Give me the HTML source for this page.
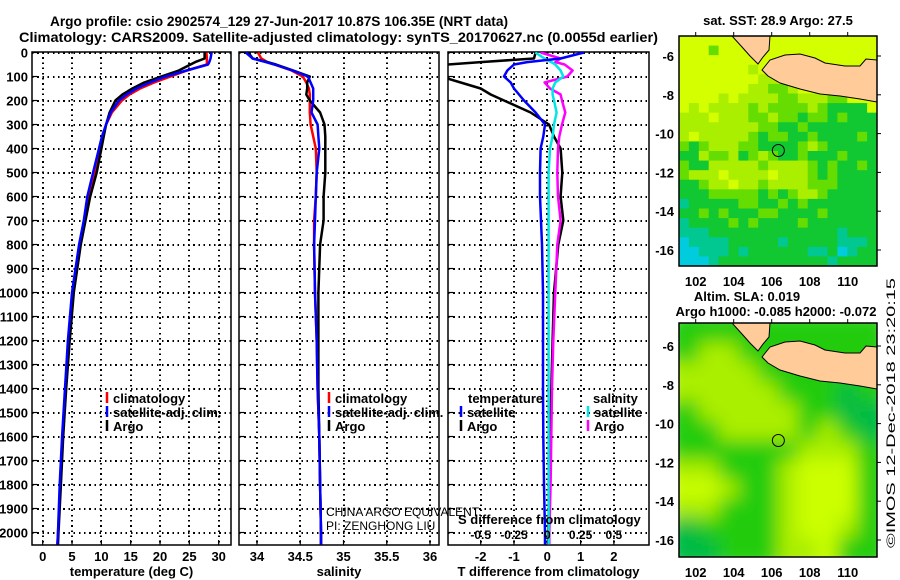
<!DOCTYPE html>
<html><head><meta charset="utf-8">
<style>
html,body{margin:0;padding:0;background:#fff;}
svg{display:block;font-family:"Liberation Sans",Arial,sans-serif;font-weight:bold;}
</style></head>
<body>
<svg id="chart" width="900" height="580" viewBox="0 0 900 580" xmlns="http://www.w3.org/2000/svg">
<defs>
<clipPath id="c1"><rect x="32" y="52" width="199" height="493"/></clipPath>
<clipPath id="c2"><rect x="239" y="52" width="200" height="493"/></clipPath>
<clipPath id="c3"><rect x="448" y="52" width="201" height="493"/></clipPath>
<clipPath id="m1c"><rect x="679" y="36" width="198" height="230"/></clipPath>
<clipPath id="m2c"><rect x="679" y="323" width="198" height="234"/></clipPath>
<filter id="blur" x="-10%" y="-10%" width="120%" height="120%"><feGaussianBlur stdDeviation="9"/></filter>
</defs>
<text x="50" y="26" font-size="14" textLength="458" lengthAdjust="spacingAndGlyphs">Argo profile: csio 2902574_129 27-Jun-2017 10.87S 106.35E (NRT data)</text>
<text x="19" y="42" font-size="14" textLength="639" lengthAdjust="spacingAndGlyphs">Climatology: CARS2009. Satellite-adjusted climatology: synTS_20170627.nc (0.0055d earlier)</text>
<g id="g1"></g>
<g id="g2"></g>
<g id="g3"></g>
<g id="m1"></g>
<g id="m2"></g>
<text transform="translate(895,548) rotate(-90)" font-size="12" font-weight="normal" textLength="270" lengthAdjust="spacingAndGlyphs">©IMOS 12-Dec-2018 23:20:15</text>
</svg>
<script>
// ---- data ----
const depths = [0,25,40,50,75,100,125,150,175,200,250,300,350,400,500,600,700,800,1000,1200,1400,1600,1800,2000,2050];
const tempClim = [27.9,28.0,28.0,28.0,24.6,21.8,19.0,16.6,14.8,13.5,11.8,10.8,10.2,9.8,8.9,7.9,7.2,6.4,5.2,4.5,3.9,3.4,3.0,2.6,2.5];
const tempSat  = [28.8,28.6,28.4,28.2,24.5,21.0,18.3,16.0,14.3,13.0,11.6,10.8,10.1,9.6,8.6,7.6,7.0,6.2,5.0,4.3,3.8,3.3,2.9,2.6,2.5];
const tempArgo = [27.6,27.6,26.0,25.2,23.2,20.2,17.3,15.3,13.6,12.4,11.4,10.8,10.4,10.0,9.2,8.1,7.3,6.5,5.3,4.6,4.0,3.5,3.1,2.7,2.6];
const salClim = [34.01,34.05,34.12,34.20,34.40,34.53,34.57,34.60,34.61,34.61,34.61,34.62,34.65,34.68,34.69,34.68,34.66,34.66,34.67,34.69,34.70,34.72,34.73,34.74,34.74];
const salSat  = [33.87,33.95,34.10,34.20,34.41,34.59,34.62,34.65,34.65,34.65,34.63,34.70,34.71,34.72,34.69,34.68,34.67,34.66,34.67,34.69,34.70,34.72,34.73,34.74,34.74];
const salArgo = [33.90,33.95,34.12,34.22,34.42,34.61,34.58,34.58,34.57,34.61,34.73,34.78,34.79,34.79,34.79,34.77,34.77,34.73,34.71,34.71,34.71,34.72,34.73,34.74,34.74];
const tdiffSat  = [1.1,0.4,-0.6,-1.0,-1.2,-1.3,-1.1,-1.0,-0.85,-0.7,-0.35,-0.07,-0.12,-0.2,-0.22,-0.22,-0.19,-0.16,-0.13,-0.13,-0.13,-0.12,-0.1,-0.07,-0.07];
const tdiffArgo = [-0.35,-0.4,-2.0,-3.0,-3.5,-3.2,-2.6,-2.0,-1.7,-1.3,-0.5,0.05,0.2,0.4,0.45,0.4,0.48,0.33,0.2,0.16,0.12,0.09,0.06,0.03,0.03];
const sdiffSat  = [-0.09,-0.02,0.03,0.06,0.10,0.12,0.06,0.04,0.04,0.05,0.07,0.05,0.04,0.02,0.01,0.01,0.01,0.01,0.01,0.01,0.01,0.01,0.01,0.01,0.01];
const sdiffArgo = [-0.05,0.10,0.06,0.13,0.19,0.15,-0.02,0.02,0.10,0.11,0.135,0.11,0.09,0.08,0.075,0.08,0.10,0.075,0.06,0.045,0.035,0.03,0.025,0.015,0.015];
const depthTicks = [0,100,200,300,400,500,600,700,800,900,1000,1100,1200,1300,1400,1500,1600,1700,1800,1900,2000];
const tempTicks = [0,5,10,15,20,25,30];
const salTicks = [34,34.5,35,35.5,36];
const salTickLabels = ["34","34.5","35","35.5","36"];
const tdTicks = [-2,-1,0,1,2];
const sdTicks = [-0.5,-0.25,0,0.25,0.5];
const sdTickLabels = ["-0.5","-0.25","0","0.25","0.5"];
const lonTicks = [102,104,106,108,110];
const latTicks = [-6,-8,-10,-12,-14,-16];
const argoLon = 106.35, argoLat = -10.87;
const sstGrid = [
"00000000000000000000","00020000000000000000","00000000000000000000","00000001000000000000",
"00000000110000000000","00000001122100000000","00001011112211122000","01011112122221233330",
"11101112212232232333","11111111223323333333","10111112322332333323","23211122333321233333",
"33122132123323332333","23311111211112323323","21110111101112323333","33211011211112223333",
"33322222323211233333","43333322332323333333","33232333223333233333","43333232333323333333",
"44433333333333334333","54444333334333334443","55444343333334435433","55543333333333343333"];
const slaGrid = ["0000000000","0110000000","1111000000","1111100030","0111110033","0011110103","0000001110","1100012220","2210012220","1100012220","3000012210","3300011200"];
const sstColors = ["#d4ff00","#aaee00","#66dd00","#11c833","#00c890","#00ccdd"];
const slaColors = ["#22cc11","#aaee00","#ccff00","#00bb44"];

// ---- helpers ----
const NS="http://www.w3.org/2000/svg";
function mk(tag,attrs,parent){const e=document.createElementNS(NS,tag);for(const k in attrs)e.setAttribute(k,attrs[k]);parent.appendChild(e);return e;}
const yD = d => 52.5 + d*0.24;
const xT = t => 42.7 + t*5.866;
const xS = s => 257 + (s-34)*86.5;
const xTD = v => 547.3 + v*33.3;
const xSD = v => 547.3 + v*133.2;
const mx = lon => 695.7 + (lon-102)*19;
const my1 = lat => 56 + (-6-lat)*19.4;
const my2 = lat => 346 + (-6-lat)*19.4;

function panel(g,x0,x1,vgrid,xticks,xlabels,xname,clip,showY){
  const y0=52,y1=545;
  depthTicks.forEach(d=>{
    const yy=Math.round(yD(d));
    const l=mk('line',{x1:x0,x2:x1,y1:yy,y2:yy,stroke:'#000','stroke-width':1.6,'stroke-dasharray':'1.6,3.6','shape-rendering':'crispEdges'},g);
    
    
    const t=mk('line',{x1:x0,x2:x0+5,y1:yD(d),y2:yD(d),stroke:'#000','stroke-width':1.2},g);
    
    
    if(showY){const tx=mk('text',{x:28,y:yD(d)+5,'font-size':13,'text-anchor':'end'},g);tx.textContent=d;
      
      }
  });
  vgrid.forEach(v=>{
    const xx=Math.round(v);
    const l=mk('line',{x1:xx,x2:xx,y1:y0,y2:y1,stroke:'#000','stroke-width':1.6,'stroke-dasharray':'1.6,3.6','shape-rendering':'crispEdges'},g);
    
    
  });
  xticks.forEach((v,i)=>{
    const t=mk('line',{x1:v,x2:v,y1:y1,y2:y1-5,stroke:'#000','stroke-width':1.2},g);
    
    
    const tx=mk('text',{x:v,y:561,'font-size':13,'text-anchor':'middle'},g);tx.textContent=xlabels[i];
    
    
  });
  const r=mk('rect',{x:x0,y:y0,width:x1-x0,height:y1-y0,fill:'none',stroke:'#000','stroke-width':1.5},g);
  
  
  const lab=mk('text',{x:(x0+x1)/2,y:576,'font-size':13,'text-anchor':'middle'},g);lab.textContent=xname;
  
  
}
function line(g,vals,xf,color,w,clip,name){
  const pts=vals.map((v,i)=>xf(v).toFixed(1)+','+yD(depths[i]).toFixed(1)).join(' ');
  const p=mk('polyline',{points:pts,fill:'none',stroke:color,'stroke-width':w,'clip-path':'url(#'+clip+')','stroke-linejoin':'round'},g);
  
  
}
function legend(g,x,y,color,label){
  const t=mk('line',{x1:x,x2:x,y1:y-11,y2:y,stroke:color,'stroke-width':2.5},g);
  
  
  const tx=mk('text',{x:x+6,y:y,'font-size':13},g);tx.textContent=label;
  
  
}

// panel 1
const g1=document.getElementById('g1');
panel(g1,32,231,tempTicks.map(xT),tempTicks.map(xT),tempTicks,'temperature (deg C)','c1',true);
line(g1,tempClim,xT,'#ff0000',2.5,'c1','climatology-temperature-line');
line(g1,tempArgo,xT,'#000',2.5,'c1','argo-temperature-line');
line(g1,tempSat,xT,'#0000ff',2.5,'c1','satellite-temperature-line');
legend(g1,107,403,'#ff0000','climatology');
legend(g1,107,417,'#0000ff','satellite-adj. clim.');
legend(g1,107,431,'#000','Argo');
// panel 2
const g2=document.getElementById('g2');
panel(g2,239,439,salTicks.map(xS),salTicks.map(xS),salTickLabels,'salinity','c2',false);
line(g2,salClim,xS,'#ff0000',2.5,'c2','climatology-salinity-line');
line(g2,salArgo,xS,'#000',2.5,'c2','argo-salinity-line');
line(g2,salSat,xS,'#0000ff',2.5,'c2','satellite-salinity-line');
legend(g2,329,403,'#ff0000','climatology');
legend(g2,329,417,'#0000ff','satellite-adj. clim.');
legend(g2,329,431,'#000','Argo');
[['CHINA ARGO EQUIVALENT',516],['PI: ZENGHONG LIU',530]].forEach(a=>{
  const t=mk('text',{x:326,y:a[1],'font-size':12,'font-weight':'normal'},g2);t.textContent=a[0];
  
  
});
// panel 3
const g3=document.getElementById('g3');
panel(g3,448,649,tdTicks.map(xTD),tdTicks.map(xTD),tdTicks,'T difference from climatology','c3',false);
line(g3,tdiffArgo,xTD,'#000',2.5,'c3','argo-temperature-difference-line');
line(g3,sdiffArgo,xSD,'#ff00ff',2.5,'c3','argo-salinity-difference-line');
line(g3,sdiffSat,xSD,'#00e5e5',2.5,'c3','satellite-salinity-difference-line');
line(g3,tdiffSat,xTD,'#0000ff',2.5,'c3','satellite-temperature-difference-line');
{const t=mk('text',{x:468,y:403,'font-size':13},g3);t.textContent='temperature';}
{const t=mk('text',{x:593,y:403,'font-size':13},g3);t.textContent='salinity';}
legend(g3,461,417,'#0000ff','satellite');
legend(g3,461,431,'#000','Argo');
legend(g3,588,417,'#00e5e5','satellite');
legend(g3,588,431,'#ff00ff','Argo');
{const t=mk('text',{x:458,y:524,'font-size':13},g3);t.textContent='S difference from climatology';}
sdTicks.forEach((v,i)=>{const t=mk('text',{x:xSD(v),y:539,'font-size':12,'text-anchor':'middle'},g3);t.textContent=sdTickLabels[i];
  
  });

// maps
function map(gid,grid,colors,top,h,myf,clip,blur,titles){
  const g=document.getElementById(gid);
  const gc=mk('g',{'clip-path':'url(#'+clip+')'},g);
  const gg=mk('g',blur?{filter:'url(#blur)'}:{},gc);
  const rows=grid.length,cols=grid[0].length,cw=198/cols,ch=h/rows;
  for(let r=0;r<rows;r++)for(let c=0;c<cols;c++){
    const pad=blur?12:0;
    const x=679+c*cw-(c===0?pad:0),y=top+r*ch-(r===0?pad:0);
    const w=cw+0.5+(c===0||c===cols-1?pad:0),hh=ch+0.5+(r===0||r===rows-1?pad:0);
    const cell=mk('rect',{x:x,y:y,width:w,height:hh,fill:colors[+grid[r][c]]},gg);
    
    
  }
  const dy=top-36;
  const sum=mk('polygon',{points:[[732,36],[770,36],[769,50],[763,57],[758,64],[750,56],[742,47]].map(p=>p[0]+','+(p[1]+dy)).join(' '),fill:'#ffcc99',stroke:'#000','stroke-width':1},gc);
  
  
  const jav=mk('polygon',{points:[[762,70],[770,60],[785,55],[800,54],[815,58],[825,63],[845,66],[860,66],[866,59],[877,60],[877,102],[860,99],[840,96],[820,94],[800,89],[780,83],[768,76]].map(p=>p[0]+','+(p[1]+dy)).join(' '),fill:'#ffcc99',stroke:'#000','stroke-width':1},gc);
  
  
  const circ=mk('circle',{cx:mx(argoLon),cy:myf(argoLat),r:6,fill:'none',stroke:'#000','stroke-width':1},g);
  
  
  const fr=mk('rect',{x:679,y:top,width:198,height:h,fill:'none',stroke:'#000','stroke-width':1.5},g);
  
  
  lonTicks.forEach(v=>{
    mk('line',{x1:mx(v),x2:mx(v),y1:top,y2:top-4,stroke:'#000'},g);
    const t=mk('text',{x:mx(v),y:top+h+20,'font-size':13,'text-anchor':'middle'},g);t.textContent=v;
    
    
  });
  latTicks.forEach(v=>{
    mk('line',{x1:877,x2:881,y1:myf(v),y2:myf(v),stroke:'#000'},g);
    const t=mk('text',{x:674,y:myf(v)+5,'font-size':13,'text-anchor':'end'},g);t.textContent=v;
    
    
  });
  titles.forEach(tt=>{const t=mk('text',{x:tt[1],y:tt[2],'font-size':13,'text-anchor':'middle'},g);t.textContent=tt[0];
    
    });
}
map('m1',sstGrid,sstColors,36,230,my1,'m1c',false,[['sat. SST: 28.9 Argo: 27.5',778,25]]);
map('m2',slaGrid,slaColors,323,234,my2,'m2c',true,[['Altim. SLA: 0.019',747,301],['Argo h1000: -0.085 h2000: -0.072',776,316]]);
</script>
</body></html>
